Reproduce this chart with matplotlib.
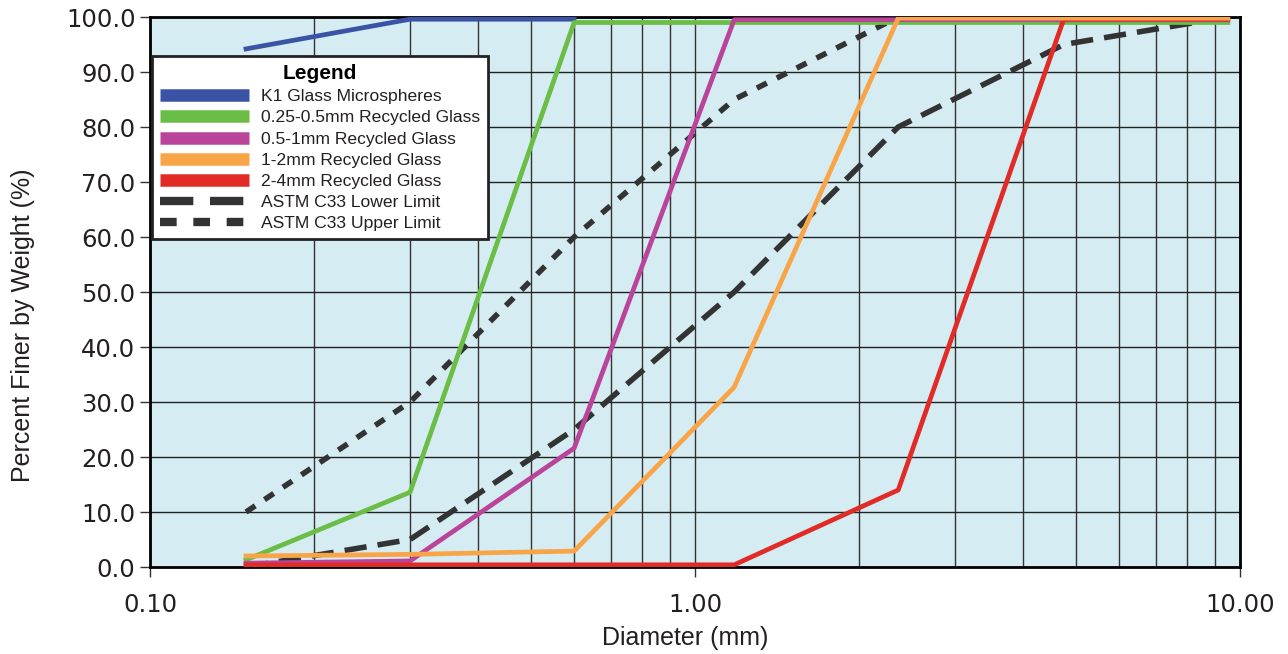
import matplotlib
matplotlib.use("Agg")
import matplotlib.pyplot as plt
from matplotlib.ticker import FixedLocator, FormatStrFormatter, LogLocator, NullFormatter

# sieve sizes (mm)
sieve = [0.15, 0.3, 0.6, 1.18, 2.36, 4.75, 9.5]

k1_sieve = [0.15, 0.3, 0.6]
k1 = [94.2, 99.6, 99.6]
glass_025_05 = [1.3, 13.6, 99.0, 99.0, 99.0, 99.0, 99.0]
glass_05_1 = [0.7, 1.1, 21.6, 99.5, 99.5, 99.5, 99.5]
glass_1_2 = [2.0, 2.3, 2.9, 32.7, 99.8, 99.8, 99.8]
glass_2_4 = [0.4, 0.4, 0.4, 0.4, 14.0, 99.6, 99.6]
astm_lower = [0.0, 5.0, 25.0, 50.0, 80.0, 95.0, 100.0]
astm_upper = [10.0, 30.0, 60.0, 85.0, 100.0, 100.0, 100.0]

labels = ["K1 Glass Microspheres", "0.25-0.5mm Recycled Glass", "0.5-1mm Recycled Glass",
          "1-2mm Recycled Glass", "2-4mm Recycled Glass", "ASTM C33 Lower Limit",
          "ASTM C33 Upper Limit"]


def main():
    fig = plt.figure(figsize=(12.88, 6.54), dpi=100)
    ax = fig.add_axes([0.1165, 0.133, 0.8462, 0.841])
    ax.set_facecolor("#d5ecf3")

    lw = 3.4
    ax.plot(sieve, astm_lower, color="#333333", lw=4.0, dashes=(4, 2), label=labels[5], zorder=2)
    ax.plot(sieve, astm_upper, color="#333333", lw=4.0, dashes=(2, 2), label=labels[6], zorder=2)
    ax.plot(k1_sieve, k1, color="#3a53a4", lw=lw, label=labels[0], zorder=3)
    ax.plot(sieve, glass_025_05, color="#6abd45", lw=lw, label=labels[1], zorder=3)
    ax.plot(sieve, glass_05_1, color="#b9449a", lw=lw, label=labels[2], zorder=3)
    ax.plot(sieve, glass_2_4, color="#e12b26", lw=lw, label=labels[4], zorder=3)
    ax.plot(sieve, glass_1_2, color="#f9a547", lw=lw, label=labels[3], zorder=3)

    ax.set_xscale("log")
    ax.set_xlim(0.1, 10)
    ax.set_ylim(0, 100)
    ax.xaxis.set_major_locator(FixedLocator([0.1, 1, 10]))
    ax.xaxis.set_major_formatter(FormatStrFormatter("%.2f"))
    ax.xaxis.set_minor_locator(LogLocator(base=10, subs=range(2, 10)))
    ax.xaxis.set_minor_formatter(NullFormatter())
    ax.yaxis.set_major_locator(FixedLocator(range(0, 101, 10)))
    ax.yaxis.set_major_formatter(FormatStrFormatter("%.1f"))

    ax.grid(which="both", axis="x", color="#333333", lw=1.0, zorder=1)
    ax.grid(which="major", axis="y", color="#222222", lw=1.0, zorder=1)
    ax.set_axisbelow(True)

    ax.tick_params(axis="both", which="major", labelsize=17.5, length=7, width=1,
                   direction="out", color="#333333", labelcolor="#231f20")
    ax.tick_params(axis="x", which="minor", length=0)
    ax.tick_params(axis="x", pad=12)
    for s in ax.spines.values():
        s.set_linewidth(2)
        s.set_color("black")

    ax.set_xlabel("Diameter (mm)", family="Liberation Sans", fontsize=18, color="#231f20")
    ax.set_ylabel("Percent Finer by Weight (%)", family="Liberation Sans", fontsize=18,
                  color="#231f20")
    ax.xaxis.set_label_coords(0.491, -0.107)
    ax.yaxis.set_label_coords(-0.1055, 0.44)

    handles, labs = ax.get_legend_handles_labels()
    order = [2, 3, 4, 6, 5, 0, 1]
    leg = ax.legend([handles[i] for i in order], [labs[i] for i in order],
                    loc="upper left", bbox_to_anchor=(0.0, 0.932),
                    title="Legend", fancybox=False, framealpha=1,
                    edgecolor="#222222", handlelength=5.1, handletextpad=0.7,
                    labelspacing=0.34, borderaxespad=0.1, borderpad=0.45,
                    prop={"family": "Liberation Sans", "size": 12.6},
                    title_fontproperties={"family": "Liberation Sans", "size": 15,
                                          "weight": "bold"})
    leg.get_frame().set_linewidth(2)
    leg.set_zorder(5)
    for h in leg.get_lines():
        h.set_linewidth(9)
        h.set_solid_capstyle("butt")
        h.set_dash_capstyle("butt")
    for h in leg.get_lines()[5:]:
        h.set_linewidth(6)
    for t in leg.get_texts():
        t.set_color("#231f20")

    fig.savefig("out.png", dpi=100)


if __name__ == "__main__":
    main()
